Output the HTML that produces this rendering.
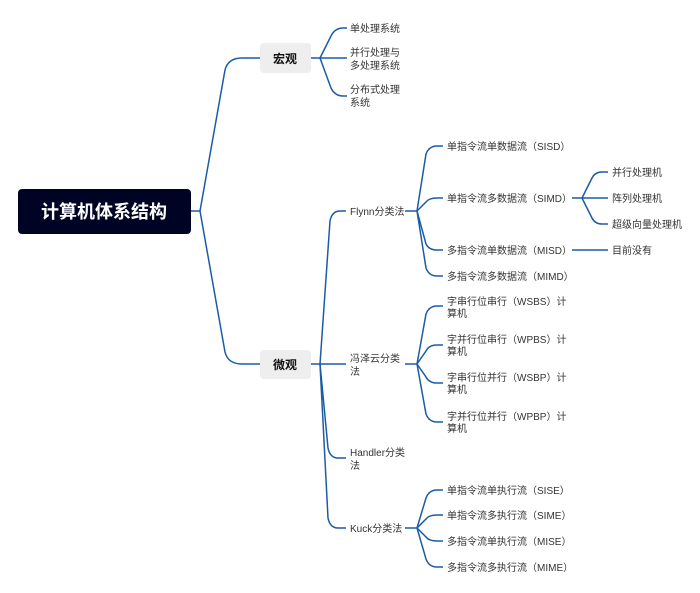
<!DOCTYPE html>
<html><head><meta charset="utf-8"><style>
html,body{margin:0;padding:0;background:#fff;}
svg{display:block;}
text{font-family:"Liberation Sans","Noto Sans CJK SC",sans-serif;font-size:10px;fill:#333;}
</style></head><body>
<svg width="700" height="593" viewBox="0 0 700 593" xmlns="http://www.w3.org/2000/svg">
<g fill="none" stroke="#1b5ca3" stroke-width="1.5">
<!-- root stubs -->
<path d="M191 211 H200"/>
<path d="M200 211 L225 70 Q228 58 242 58 H260"/>
<path d="M200 211 L225 352 Q228 364 242 364 H260"/>
<!-- 宏观 -->
<path d="M311 58 H320"/>
<path d="M320 58 L331 36 Q335 28 343 28 H347"/>
<path d="M320 58 H347"/>
<path d="M320 58 L331 88 Q335 96 343 96 H347"/>
<!-- 微观 -->
<path d="M311 364 H320"/>
<path d="M320 364 L330 221 Q332 211 340 211 H346"/>
<path d="M320 364 H346"/>
<path d="M320 364 L328 448 Q330 458 338 458 H346"/>
<path d="M320 364 L328 518 Q330 528 338 528 H346"/>
<!-- Flynn -->
<path d="M405 211 H417"/>
<path d="M417 211 L426 154 Q429 146 437 146 H443"/>
<path d="M417 211 L426 202 Q429 198 437 198 H443"/>
<path d="M417 211 L426 244 Q429 250 437 250 H443"/>
<path d="M417 211 L426 268 Q429 276 437 276 H443"/>
<!-- SIMD -->
<path d="M572 198 H582"/>
<path d="M582 198 L592 178 Q595 172 602 172 H608"/>
<path d="M582 198 H608"/>
<path d="M582 198 L592 218 Q595 224 602 224 H608"/>
<path d="M572 250 H608"/>
<!-- 冯泽云 -->
<path d="M405 364 H417"/>
<path d="M417 364 L426 314 Q429 306 437 306 H443"/>
<path d="M417 364 L426 351 Q429 345 437 345 H443"/>
<path d="M417 364 L426 377 Q429 383 437 383 H443"/>
<path d="M417 364 L426 414 Q429 422 437 422 H443"/>
<!-- Kuck -->
<path d="M405 528 H417"/>
<path d="M417 528 L426 498 Q429 490 437 490 H443"/>
<path d="M417 528 L426 519 Q429 515 437 515 H443"/>
<path d="M417 528 L426 537 Q429 541 437 541 H443"/>
<path d="M417 528 L426 559 Q429 567 437 567 H443"/>
</g>
<rect x="18" y="189" width="173" height="45" rx="4" fill="#000424"/>
<text x="104" y="218" text-anchor="middle" style="font-size:18px;font-weight:bold;fill:#fff">计算机体系结构</text>
<rect x="260" y="43" width="51" height="30" rx="4" fill="#eeeeee"/>
<text x="285" y="63" text-anchor="middle" style="font-size:12px;font-weight:bold;fill:#111">宏观</text>
<rect x="260" y="350" width="51" height="29" rx="4" fill="#eeeeee"/>
<text x="285" y="369" text-anchor="middle" style="font-size:12px;font-weight:bold;fill:#111">微观</text>
<text x="350" y="32">单处理系统</text>
<text x="350" y="56">并行处理与</text><text x="350" y="69">多处理系统</text>
<text x="350" y="93">分布式处理</text><text x="350" y="106">系统</text>
<text x="350" y="215">Flynn分类法</text>
<text x="350" y="362">冯泽云分类</text><text x="350" y="375">法</text>
<text x="350" y="456">Handler分类</text><text x="350" y="469">法</text>
<text x="350" y="532">Kuck分类法</text>
<text x="447" y="150">单指令流单数据流（SISD）</text>
<text x="447" y="202">单指令流多数据流（SIMD）</text>
<text x="447" y="254">多指令流单数据流（MISD）</text>
<text x="447" y="280">多指令流多数据流（MIMD）</text>
<text x="612" y="176">并行处理机</text>
<text x="612" y="202">阵列处理机</text>
<text x="612" y="228">超级向量处理机</text>
<text x="612" y="254">目前没有</text>
<text x="447" y="305">字串行位串行（WSBS）计</text><text x="447" y="317">算机</text>
<text x="447" y="343">字并行位串行（WPBS）计</text><text x="447" y="355">算机</text>
<text x="447" y="381">字串行位并行（WSBP）计</text><text x="447" y="393">算机</text>
<text x="447" y="420">字并行位并行（WPBP）计</text><text x="447" y="432">算机</text>
<text x="447" y="494">单指令流单执行流（SISE）</text>
<text x="447" y="519">单指令流多执行流（SIME）</text>
<text x="447" y="545">多指令流单执行流（MISE）</text>
<text x="447" y="571">多指令流多执行流（MIME）</text>
</svg>
</body></html>
